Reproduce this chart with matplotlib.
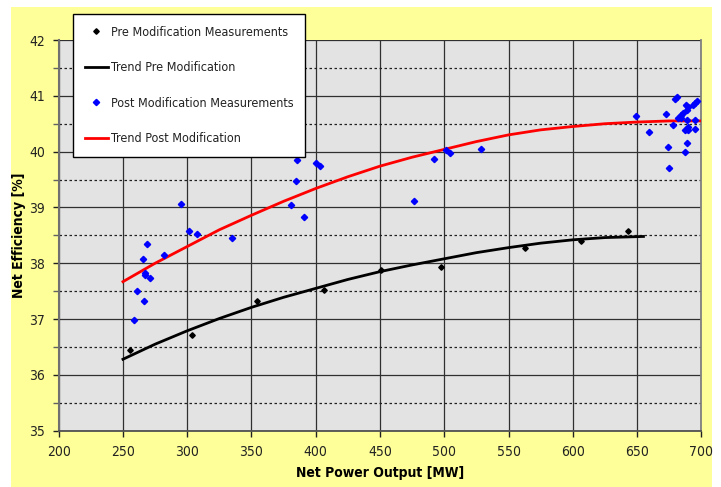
#!/usr/bin/env python3
"""
Net efficiency vs net power output, before and after the modification
"""

import matplotlib
matplotlib.use("Agg")
import matplotlib.pyplot as plt
from matplotlib.patches import Rectangle
from matplotlib.ticker import MultipleLocator

plt.rcParams['font.family'] = ['DejaVu Sans']
plt.rcParams['font.stretch'] = 'condensed'

pre_mw = [255.5, 303.5, 354, 406.7, 450.8, 497.2, 562.8, 606.4, 642.7]
pre_eff = [36.45, 36.72, 37.33, 37.52, 37.88, 37.94, 38.28, 38.40, 38.58]

post_mw = [258.8, 266.1, 260.7, 271, 267.1, 267.4, 265.4, 281.7, 268.5,
           295.2, 301.2, 307.8, 334.8, 381, 390.9, 384.6, 385.7, 400.2, 403.3,
           476.5, 492.3, 501.4, 504.5, 528.3,
           649, 659.6, 672.3, 673.9, 675.1, 678.2, 679.5, 680.9, 682.1, 684,
           684, 686, 687.3, 687.3, 688.1, 688.6, 688.6, 688.6, 689.9, 689.9,
           689.9, 693.3, 695.1, 695.1, 695.4, 696.4]
post_eff = [36.98, 37.32, 37.51, 37.73, 37.82, 37.79, 38.07, 38.15, 38.34,
            39.07, 38.58, 38.52, 38.46, 39.04, 38.83, 39.47, 39.85, 39.79, 39.75,
            39.12, 39.86, 40.03, 39.97, 40.04,
            40.63, 40.35, 40.67, 40.08, 39.71, 40.47, 40.94, 40.97, 40.60, 40.66,
            40.61, 40.69, 40.00, 40.39, 40.84, 40.16, 40.75, 40.57, 40.80, 40.39,
            40.45, 40.84, 40.88, 40.57, 40.40, 40.91]

# trend curves
pre_trend_mw = [250, 275, 300, 325, 350, 375, 400, 425, 450, 475, 500,
                525, 550, 575, 600, 625, 655]
pre_trend_eff = [36.28, 36.55, 36.79, 37.01, 37.21, 37.39, 37.55, 37.71, 37.85,
                 37.97, 38.08, 38.19, 38.28, 38.36, 38.42, 38.46, 38.48]

post_trend_mw = [250, 275, 300, 325, 350, 375, 400, 425, 450, 475, 500,
                 525, 550, 575, 600, 625, 650, 675, 700]
post_trend_eff = [37.67, 38.00, 38.30, 38.60, 38.86, 39.11, 39.34, 39.55, 39.74,
                  39.90, 40.04, 40.18, 40.30, 40.39, 40.45, 40.50, 40.53, 40.55, 40.55]

W, H = 721, 487
fig = plt.figure(figsize=(W / 100, H / 100), dpi=100)
fig.patch.set_facecolor('white')
fig.patches.append(Rectangle((11 / W, 0), (712 - 11) / W, 1 - 7 / H,
                             transform=fig.transFigure, facecolor='#FFFF99',
                             edgecolor='none', zorder=-5))

ax = fig.add_axes([58.7 / W, 1 - 430.7 / H, (701.3 - 58.7) / W, (430.7 - 40) / H])
ax.set_zorder(1)
ax.set_facecolor('#E3E3E3')

ax.set_xlim(200, 700)
ax.set_ylim(35, 42)
ax.xaxis.set_major_locator(MultipleLocator(50))
ax.yaxis.set_major_locator(MultipleLocator(1))
ax.yaxis.set_minor_locator(MultipleLocator(0.5))

ax.grid(True, which='major', color='#303030', linewidth=0.9)
ax.grid(True, which='minor', axis='y', color='#202020', linewidth=0.9,
        linestyle=(0, (2, 2)))
ax.set_axisbelow(True)

ax.spines['top'].set_visible(False)
ax.spines['left'].set_color('#707070')
ax.spines['left'].set_linewidth(1.5)
ax.spines['bottom'].set_color('#505050')
ax.spines['bottom'].set_linewidth(1.3)
ax.spines['right'].set_color('#808080')
ax.spines['right'].set_linewidth(1.3)

ax.tick_params(which='major', direction='out', length=4, width=1, color='#202020',
               labelsize=10, pad=6, labelcolor='#222222')
ax.tick_params(axis='y', which='minor', direction='out', length=4, width=1,
               color='#606060')
ax.tick_params(axis='x', which='minor', length=0)

ax.plot(pre_mw, pre_eff, linestyle='none', marker='D', markersize=2.8,
        color='black', label='Pre Modification Measurements', zorder=4)
ax.plot(pre_trend_mw, pre_trend_eff, color='black', linewidth=2,
        label='Trend Pre Modification', zorder=3)
ax.plot(post_mw, post_eff, linestyle='none', marker='D', markersize=3.2,
        color='#0000FF', label='Post Modification Measurements', zorder=4)
ax.plot(post_trend_mw, post_trend_eff, color='#FF0000', linewidth=2,
        label='Trend Post Modification', zorder=3)

ax.set_xlabel('Net Power Output [MW]', fontsize=10, fontweight='bold', labelpad=5)
ax.set_ylabel('Net Efficiency [%]', fontsize=10, fontweight='bold', labelpad=2)

handles, labels = ax.get_legend_handles_labels()
leg = fig.legend(handles, labels, loc='upper left',
                 bbox_to_anchor=(73 / W, 1 - 14 / H), bbox_transform=fig.transFigure,
                 frameon=True, fancybox=False, framealpha=1, edgecolor='black',
                 fontsize=9, labelspacing=1.8, handlelength=1.85,
                 handletextpad=0.25, borderpad=0.94, borderaxespad=0,
                 labelcolor='#222222')
leg.get_frame().set_linewidth(1)
leg.set_zorder(10)

fig.savefig('out.png', dpi=100)
